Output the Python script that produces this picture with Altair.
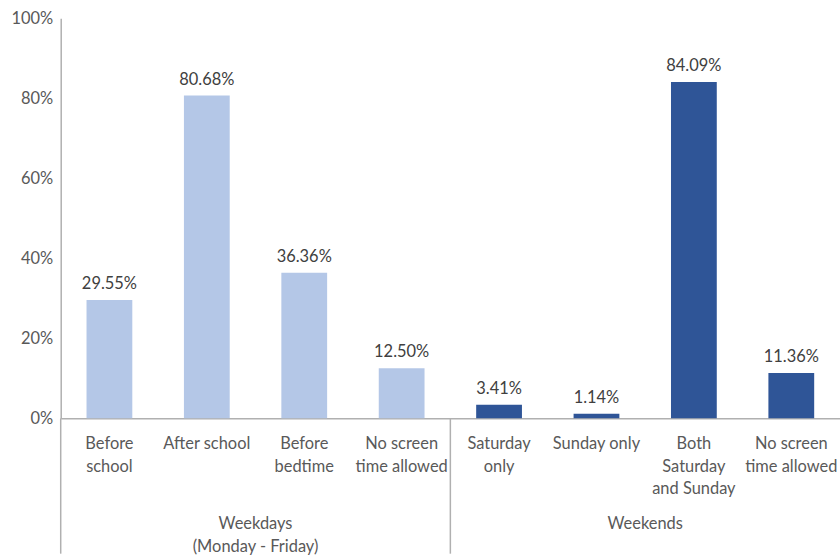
import altair as alt
import pandas as pd

categories = ["Before\nschool", "After school", "Before\nbedtime", "No screen\ntime allowed",
              "Saturday\nonly", "Sunday only", "Both\nSaturday\nand Sunday", "No screen \ntime allowed"]
groups = ["Weekdays"] * 4 + ["Weekends"] * 4
values = [0.2955, 0.8068, 0.3636, 0.1250, 0.0341, 0.0114, 0.8409, 0.1136]
group_names = ["Weekdays\n(Monday - Friday)", "Weekends"]
group_anchor = ["Before\nbedtime", "Both\nSaturday\nand Sunday"]

FONT = "Lato"
FS = 16.5
GREY = "#595959"
LINE = "#B0B0B0"

df = pd.DataFrame({"cat": categories, "group": groups, "value": values})
gdf = pd.DataFrame({"cat": group_anchor, "label": group_names})
sep = pd.DataFrame({"cat": ["Saturday\nonly"]})

xscale = alt.Scale(domain=categories, paddingInner=0, paddingOuter=0)

base = alt.Chart(df)

bars = base.mark_bar(width=alt.RelativeBandSize(0.47)).encode(
    x=alt.X("cat:N", scale=xscale, sort=categories,
            axis=alt.Axis(title=None, labelExpr="split(datum.value, '\\n')",
                          labelAngle=0, labelBaseline="top", labelPadding=17,
                          labelLineHeight=23, labelFont=FONT, labelFontSize=FS,
                          labelColor=GREY, ticks=False, domainColor=LINE,
                          domainWidth=1.5, labelLimit=200)),
    y=alt.Y("value:Q", scale=alt.Scale(domain=[0, 1]),
            axis=alt.Axis(title=None, values=[0, 0.2, 0.4, 0.6, 0.8, 1.0], format=".0%",
                          grid=False, ticks=False, labelPadding=8, labelFont=FONT,
                          labelFontSize=FS, labelColor=GREY, domainColor=LINE,
                          domainWidth=1.5)),
    color=alt.Color("group:N", scale=alt.Scale(domain=["Weekdays", "Weekends"],
                                               range=["#B4C7E7", "#2F5597"]), legend=None),
)

labels = base.mark_text(baseline="bottom", dy=-8, font=FONT, fontSize=FS, color="#404040").encode(
    x=alt.X("cat:N", scale=xscale, sort=categories),
    y="value:Q",
    text=alt.Text("value:Q", format=".2%"),
)

group_text = alt.Chart(gdf).mark_text(baseline="middle", lineBreak="\n", lineHeight=23,
                                      font=FONT, fontSize=FS, color=GREY).encode(
    x=alt.X("cat:N", scale=xscale, sort=categories, bandPosition=0),
    y=alt.value(508),
    text="label:N",
)

sep_rule = alt.Chart(sep).mark_rule(color=LINE, strokeWidth=1.5).encode(
    x=alt.X("cat:N", scale=xscale, sort=categories, bandPosition=0),
    y=alt.value(402), y2=alt.value(538),
)

axis_ext = alt.Chart(sep).mark_rule(color=LINE, strokeWidth=1.5).encode(
    x=alt.value(0), y=alt.value(402), y2=alt.value(538),
)

chart = alt.layer(bars, labels, group_text, sep_rule, axis_ext).properties(
    width=783, height=402,
    autosize=alt.AutoSizeParams(type="none"),
    padding={"left": 61, "top": 17, "right": 0, "bottom": 136},
).configure_view(stroke=None)

chart.save("out.html", embed_options={"renderer": "svg", "actions": False})
